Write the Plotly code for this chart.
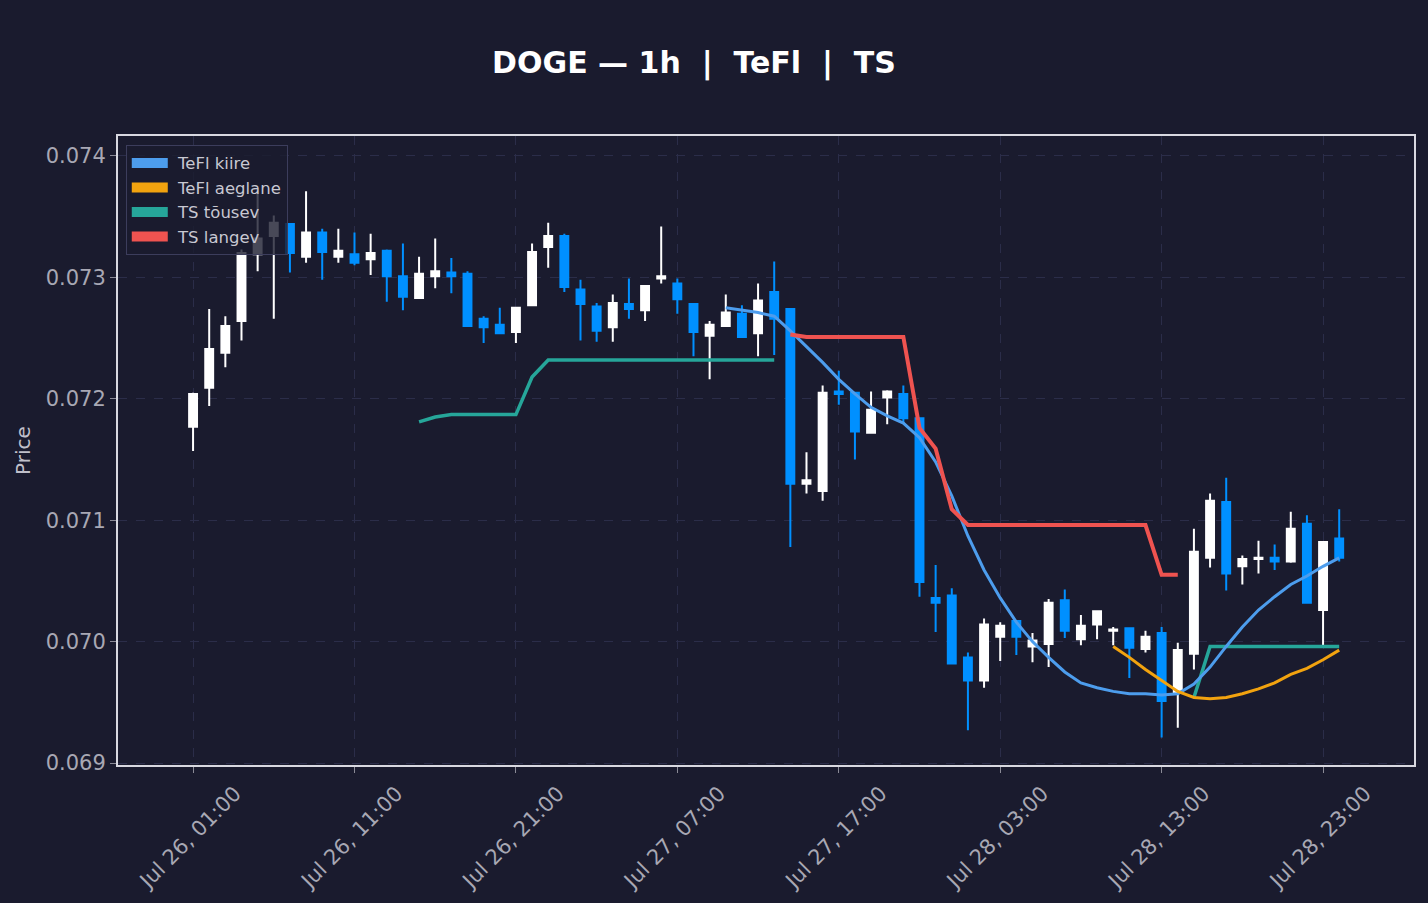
import pandas as pd
import plotly.graph_objects as go

times = pd.date_range("2023-07-26 01:00", periods=72, freq="h")

opens = [0.07177, 0.07209, 0.07238, 0.07264, 0.07319, 0.07334, 0.07344, 0.07317, 0.07337, 0.07317,
         0.07319, 0.07315, 0.07322, 0.07301, 0.07283, 0.07301, 0.07304, 0.07303, 0.07266, 0.07261,
         0.07255, 0.07277, 0.07325, 0.07334, 0.07290, 0.07276, 0.07259, 0.07278, 0.07273, 0.07299,
         0.07295, 0.07278, 0.07252, 0.07260, 0.07270, 0.07254, 0.07288, 0.07274, 0.07130, 0.07124,
         0.07206, 0.07205, 0.07172, 0.07201, 0.07204, 0.07184, 0.07036, 0.07038, 0.06987, 0.06968,
         0.07004, 0.07017, 0.06996, 0.06998, 0.07034, 0.07002, 0.07014, 0.07009, 0.07011, 0.06994,
         0.07007, 0.06958, 0.06990, 0.07069, 0.07115, 0.07062, 0.07068, 0.07069, 0.07066, 0.07097,
         0.07026, 0.07085]
highs = [0.07205, 0.07274, 0.07268, 0.07323, 0.07369, 0.07351, 0.07344, 0.07371, 0.07340, 0.07340,
         0.07337, 0.07336, 0.07323, 0.07328, 0.07317, 0.07332, 0.07316, 0.07305, 0.07268, 0.07275,
         0.07275, 0.07328, 0.07345, 0.07336, 0.07298, 0.07279, 0.07286, 0.07299, 0.07293, 0.07342,
         0.07299, 0.07278, 0.07264, 0.07286, 0.07277, 0.07295, 0.07313, 0.07274, 0.07156, 0.07211,
         0.07223, 0.07205, 0.07206, 0.07207, 0.07211, 0.07184, 0.07063, 0.07044, 0.06991, 0.07019,
         0.07016, 0.07017, 0.07007, 0.07035, 0.07043, 0.07022, 0.07025, 0.07012, 0.07011, 0.07009,
         0.07012, 0.06999, 0.07093, 0.07122, 0.07135, 0.07071, 0.07083, 0.07080, 0.07107, 0.07104,
         0.07082, 0.07109]
lows = [0.07157, 0.07194, 0.07226, 0.07248, 0.07305, 0.07266, 0.07304, 0.07312, 0.07298, 0.07312,
        0.07310, 0.07302, 0.07280, 0.07273, 0.07283, 0.07291, 0.07287, 0.07260, 0.07246, 0.07254,
        0.07246, 0.07277, 0.07308, 0.07288, 0.07248, 0.07247, 0.07247, 0.07266, 0.07264, 0.07295,
        0.07270, 0.07235, 0.07216, 0.07260, 0.07251, 0.07235, 0.07236, 0.07078, 0.07122, 0.07116,
        0.07195, 0.07150, 0.07172, 0.07179, 0.07180, 0.07037, 0.07008, 0.06982, 0.06927, 0.06962,
        0.06984, 0.06989, 0.06983, 0.06979, 0.07003, 0.06997, 0.07002, 0.06997, 0.06970, 0.06991,
        0.06921, 0.06929, 0.06977, 0.07061, 0.07042, 0.07047, 0.07056, 0.07059, 0.07065, 0.07032,
        0.06997, 0.07066]
closes = [0.07204, 0.07241, 0.07260, 0.07320, 0.07332, 0.07345, 0.07320, 0.07337, 0.07321, 0.07322,
          0.07312, 0.07320, 0.07301, 0.07284, 0.07303, 0.07305, 0.07301, 0.07260, 0.07259, 0.07254,
          0.07275, 0.07321, 0.07334, 0.07292, 0.07278, 0.07256, 0.07279, 0.07274, 0.07293, 0.07301,
          0.07282, 0.07255, 0.07261, 0.07271, 0.07251, 0.07281, 0.07266, 0.07130, 0.07133, 0.07205,
          0.07204, 0.07173, 0.07191, 0.07206, 0.07184, 0.07049, 0.07032, 0.06982, 0.06968, 0.07014,
          0.07013, 0.07004, 0.07001, 0.07032, 0.07009, 0.07013, 0.07025, 0.07010, 0.06995, 0.07004,
          0.06951, 0.06993, 0.07074, 0.07116, 0.07056, 0.07068, 0.07069, 0.07066, 0.07093, 0.07032,
          0.07082, 0.07069]

N = None
tefl_kiire = [N, N, N, N, N, N, N, N, N, N, N, N, N, N, N, N, N, N, N, N,
              N, N, N, N, N, N, N, N, N, N, N, N, N,
              0.07275, 0.07273, 0.07271, 0.07268, 0.07256, 0.07243, 0.07230, 0.07216, 0.07204, 0.07193,
              0.07186, 0.07180, 0.07168, 0.07148, 0.07120, 0.07087, 0.07059, 0.07036, 0.07016, 0.07000,
              0.06987, 0.06975, 0.06966, 0.06962, 0.06959, 0.06957, 0.06957, 0.06956, 0.06957, 0.06965,
              0.06979, 0.06996, 0.07012, 0.07026, 0.07037, 0.07047, 0.07054, 0.07062, 0.07069]
tefl_aeglane = [N, N, N, N, N, N, N, N, N, N, N, N, N, N, N, N, N, N, N, N,
                N, N, N, N, N, N, N, N, N, N, N, N, N, N, N, N, N, N, N, N,
                N, N, N, N, N, N, N, N, N, N, N, N, N, N, N, N, N,
                0.06996, 0.06987, 0.06977, 0.06968, 0.06959, 0.06954, 0.06953, 0.06954, 0.06957, 0.06961,
                0.06966, 0.06973, 0.06978, 0.06985, 0.06993]
ts_tousev = [N, N, N, N, N, N, N, N, N, N, N, N, N, N,
             0.07181, 0.07185, 0.07187, 0.07187, 0.07187, 0.07187, 0.07187, 0.07218, 0.07232, 0.07232,
             0.07232, 0.07232, 0.07232, 0.07232, 0.07232, 0.07232, 0.07232, 0.07232, 0.07232, 0.07232,
             0.07232, 0.07232, 0.07232,
             N, N, N, N, N, N, N, N, N, N, N, N, N, N, N, N, N, N, N, N, N, N, N, N, N,
             0.06954, 0.06996, 0.06996, 0.06996, 0.06996, 0.06996, 0.06996, 0.06996, 0.06996, 0.06996]
ts_langev = [N, N, N, N, N, N, N, N, N, N, N, N, N, N, N, N, N, N, N, N,
             N, N, N, N, N, N, N, N, N, N, N, N, N, N, N, N, N,
             0.07253, 0.07251, 0.07251, 0.07251, 0.07251, 0.07251, 0.07251, 0.07251, 0.07176, 0.07159,
             0.07109, 0.07096, 0.07096, 0.07096, 0.07096, 0.07096, 0.07096, 0.07096, 0.07096, 0.07096,
             0.07096, 0.07096, 0.07096, 0.07055, 0.07055,
             N, N, N, N, N, N, N, N, N, N]

series_names = ["TeFl kiire", "TeFl aeglane", "TS tõusev", "TS langev"]
series_colors = ["#4d9ded", "#f2a30f", "#26a69a", "#ef5350"]

BG = "#1a1b2e"
GRID = "#2b2d49"

fig = go.Figure()

# TS tõusev drawn beneath candles
fig.add_trace(go.Scatter(x=times, y=ts_tousev, mode="lines", line=dict(color=series_colors[2], width=3.5),
                         showlegend=False, connectgaps=False))

fig.add_trace(go.Candlestick(
    x=times, open=opens, high=highs, low=lows, close=closes,
    increasing=dict(line=dict(color="#ffffff", width=2), fillcolor="#ffffff"),
    decreasing=dict(line=dict(color="#0090ff", width=2), fillcolor="#0090ff"),
    showlegend=False,
))

fig.add_trace(go.Scatter(x=times, y=tefl_kiire, mode="lines", line=dict(color=series_colors[0], width=3),
                         showlegend=False))
fig.add_trace(go.Scatter(x=times, y=tefl_aeglane, mode="lines", line=dict(color=series_colors[1], width=3),
                         showlegend=False))
fig.add_trace(go.Scatter(x=times, y=ts_langev, mode="lines", line=dict(color=series_colors[3], width=4),
                         showlegend=False, connectgaps=False))

# legend entries
for name, col in zip(series_names, series_colors):
    fig.add_trace(go.Scatter(x=[None], y=[None], mode="lines", name=" " + name,
                             line=dict(color=col, width=10), showlegend=True))

fig.update_layout(
    paper_bgcolor=BG,
    plot_bgcolor=BG,
    font=dict(family="DejaVu Sans", color="#b0b0bc"),
    margin=dict(l=118, r=14, t=136, b=138, autoexpand=False),
    title=dict(text="<b>DOGE — 1h  |  TeFl  |  TS</b>", font=dict(size=30, color="#ffffff"),
               x=0.486, xanchor="center", xref="container", y=1 - 62 / 903, yanchor="middle"),
    legend=dict(x=0.006, y=0.986, xanchor="left", yanchor="top",
                bgcolor="rgba(26,27,46,0.8)", bordercolor="#3c3d5c", borderwidth=1,
                font=dict(size=16.5, color="#c8c8d2"), itemwidth=36),
    showlegend=True,
)

fig.update_xaxes(
    automargin=False,
    range=["2023-07-25 20:21", "2023-07-29 04:38"],
    rangeslider=dict(visible=False),
    tick0="2023-07-26 01:00", dtick=10 * 3600 * 1000, tickformat="%b %d, %H:%M",
    tickangle=-45, tickfont=dict(size=21, color="#a8a8b4"), ticklabelshift=42,
    showgrid=True, gridcolor=GRID, griddash="dash", gridwidth=1,
    showline=True, mirror=True, linecolor="#d8d8e0", linewidth=2,
    ticks="outside", ticklen=6, tickcolor="#8a8a96", zeroline=False,
)
fig.update_yaxes(
    automargin=False,
    range=[0.0689835, 0.0741647],
    dtick=0.001, tick0=0.069, tickformat=".3f",
    tickfont=dict(size=21, color="#a8a8b4"),
    title=dict(text="Price", font=dict(size=20, color="#c0c0ca"), standoff=10),
    showgrid=True, gridcolor=GRID, griddash="dash", gridwidth=1,
    showline=True, mirror=True, linecolor="#d8d8e0", linewidth=2,
    ticks="outside", ticklen=6, tickcolor="#8a8a96", zeroline=False,
)

fig.write_html("out.html")
